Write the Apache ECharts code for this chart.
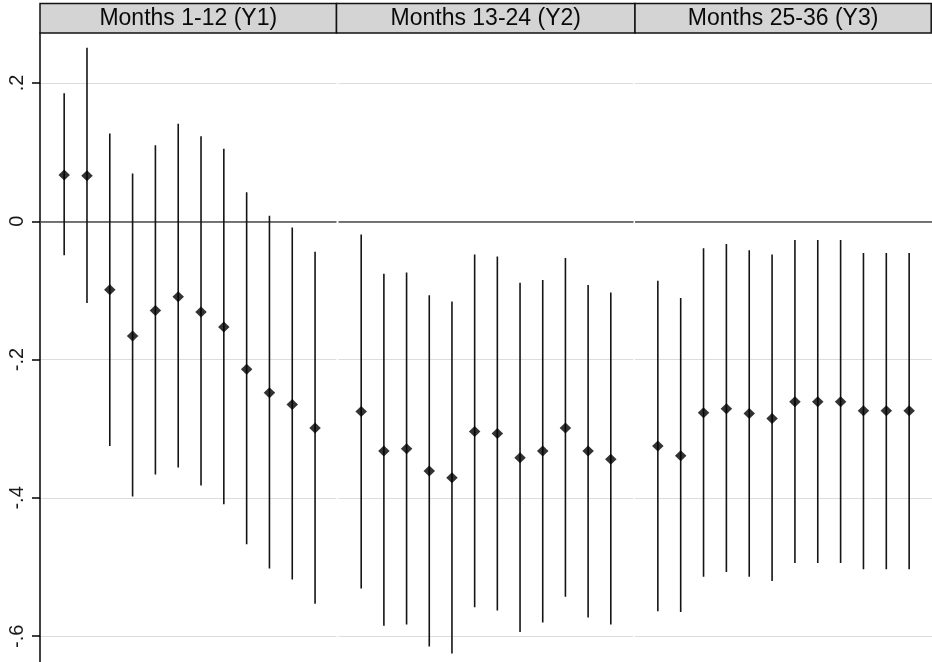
<!DOCTYPE html>
<html>
<head>
<meta charset="utf-8">
<script src="https://cdn.jsdelivr.net/npm/echarts@6/dist/echarts.min.js"></script>
<style>
  html, body { margin: 0; padding: 0; background: #ffffff; }
  #chart { width: 932px; height: 662px; }
</style>
</head>
<body>
<div id="chart"></div>
<script>
// Panel headings
const panelTitles = ['Months 1-12 (Y1)', 'Months 13-24 (Y2)', 'Months 25-36 (Y3)'];

// Month position inside each year panel
const monthInYear = [1, 2, 3, 4, 5, 6, 7, 8, 9, 10, 11, 12];

// Year 1: point estimates and 95% confidence bounds
const y1Est = [0.067, 0.066, -0.099, -0.166, -0.129, -0.109, -0.131, -0.153, -0.214, -0.248, -0.265, -0.299];
const y1Lo  = [-0.049, -0.118, -0.325, -0.398, -0.366, -0.356, -0.382, -0.409, -0.467, -0.502, -0.518, -0.553];
const y1Hi  = [0.185, 0.251, 0.127, 0.069, 0.110, 0.141, 0.123, 0.105, 0.042, 0.008, -0.009, -0.044];

// Year 2
const y2Est = [-0.275, -0.332, -0.329, -0.361, -0.371, -0.304, -0.307, -0.342, -0.332, -0.299, -0.332, -0.344];
const y2Lo  = [-0.531, -0.585, -0.583, -0.615, -0.625, -0.558, -0.563, -0.594, -0.580, -0.543, -0.573, -0.583];
const y2Hi  = [-0.019, -0.076, -0.074, -0.107, -0.116, -0.048, -0.051, -0.089, -0.085, -0.053, -0.092, -0.103];

// Year 3
const y3Est = [-0.325, -0.339, -0.277, -0.271, -0.278, -0.285, -0.261, -0.261, -0.261, -0.274, -0.274, -0.274];
const y3Lo  = [-0.564, -0.565, -0.514, -0.507, -0.514, -0.520, -0.494, -0.494, -0.494, -0.503, -0.503, -0.503];
const y3Hi  = [-0.086, -0.111, -0.039, -0.033, -0.042, -0.048, -0.027, -0.027, -0.027, -0.046, -0.046, -0.046];

// Y axis tick values
const yTicks = [-0.6, -0.4, -0.2, 0, 0.2];

const FONT = '"Liberation Sans", Arial, sans-serif';
const TOP = 33;
const HEADER_TOP = 3.5;
const Y_MIN = -0.6373, Y_MAX = 0.2723;
const panels = [
  { left: 40, width: 296.5, xMin: -0.06 },
  { left: 338.5, width: 295, xMin: 0 },
  { left: 635, width: 297, xMin: 0 }
];
const yearData = [
  { est: y1Est, lo: y1Lo, hi: y1Hi },
  { est: y2Est, lo: y2Lo, hi: y2Hi },
  { est: y3Est, lo: y3Lo, hi: y3Hi }
];

const fmtTick = v => (v === 0 ? '0' : String(v).replace('0.', '.'));

const grids = [], xAxes = [], yAxes = [], series = [], graphics = [];

panels.forEach((p, i) => {
  grids.push({ left: p.left, width: p.width, top: TOP, bottom: 0 });
  xAxes.push({ gridIndex: i, type: 'value', min: p.xMin, max: p.xMin + 13, show: false });
  const isFirst = i === 0;
  yAxes.push({
    gridIndex: i,
    type: 'value',
    min: Y_MIN,
    max: Y_MAX,
    axisLine: { show: isFirst, onZero: false, lineStyle: { color: '#000', width: 1.5 } },
    axisTick: { show: isFirst, length: 8, customValues: yTicks, lineStyle: { color: '#000', width: 1.5 } },
    axisLabel: {
      show: isFirst,
      customValues: yTicks,
      rotate: 90,
      margin: 13,
      fontSize: 20,
      fontFamily: FONT,
      color: '#1a1a1a',
      formatter: fmtTick
    },
    splitLine: { show: true, lineStyle: { color: '#dcdcdc', width: 1.2 } }
  });

  const d = yearData[i];
  series.push({
    type: 'custom',
    xAxisIndex: i,
    yAxisIndex: i,
    silent: true,
    z: 3,
    data: monthInYear.map((m, k) => [m, d.lo[k], d.hi[k]]),
    renderItem: (params, api) => {
      const x = api.value(0);
      const a = api.coord([x, api.value(1)]);
      const b = api.coord([x, api.value(2)]);
      return {
        type: 'line',
        shape: { x1: a[0], y1: a[1], x2: b[0], y2: b[1] },
        style: { stroke: '#141414', lineWidth: 1.6 }
      };
    }
  });
  series.push({
    type: 'scatter',
    xAxisIndex: i,
    yAxisIndex: i,
    silent: true,
    z: 4,
    symbol: 'diamond',
    symbolSize: [11.5, 11],
    itemStyle: { color: '#000' },
    data: monthInYear.map((m, k) => [m, d.est[k]]),
    markLine: {
      silent: true,
      symbol: 'none',
      z: 2,
      label: { show: false },
      lineStyle: { color: '#4a4a4a', width: 1.5, type: 'solid' },
      data: [{ yAxis: 0 }]
    }
  });

  // Header strip above each panel
  const hLeft = i === 0 ? p.left : panels[i - 1].left + panels[i - 1].width + (i === 1 ? 0 : 1.5);
  const hRight = i === panels.length - 1 ? 931.2 : p.left + p.width + (i === 0 ? 0 : 1.5);
  graphics.push({
    type: 'rect',
    z: 100,
    shape: { x: hLeft, y: HEADER_TOP, width: hRight - hLeft, height: TOP - HEADER_TOP },
    style: { fill: '#d4d4d4', stroke: '#111', lineWidth: 1.5 }
  });
  graphics.push({
    type: 'text',
    z: 101,
    x: (hLeft + hRight) / 2,
    y: (HEADER_TOP + TOP) / 2 + 0.5,
    style: {
      text: panelTitles[i],
      fill: '#0a0a0a',
      font: '23px ' + FONT,
      align: 'center',
      verticalAlign: 'middle'
    }
  });
});

const chart = echarts.init(document.getElementById('chart'), null, { renderer: 'canvas' });
chart.setOption({
  animation: false,
  backgroundColor: '#ffffff',
  grid: grids,
  xAxis: xAxes,
  yAxis: yAxes,
  series: series,
  graphic: graphics
});
</script>
</body>
</html>
